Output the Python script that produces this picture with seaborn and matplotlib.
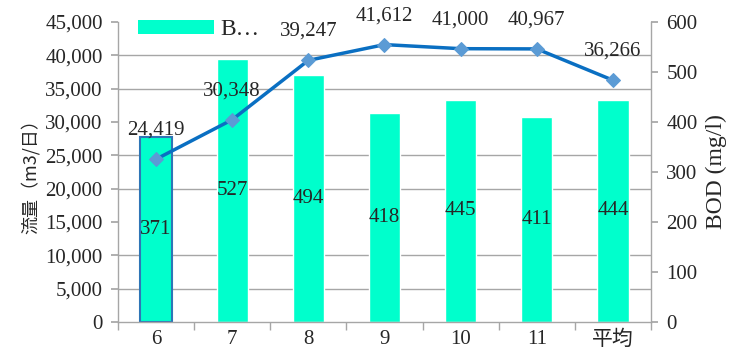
import numpy as np
import pandas as pd
import matplotlib
matplotlib.use("Agg")
import matplotlib.pyplot as plt
import seaborn as sns
from matplotlib.ticker import FuncFormatter
from matplotlib.patches import Patch

months = ["6", "7", "8", "9", "10", "11", "平均"]
bod = [371, 527, 494, 418, 445, 411, 444]
flow = [24419, 30348, 39247, 41612, 41000, 40967, 36266]
legend_label = "B…"
left_label = "流量（m3/日）"
right_label = "BOD (mg/l)"

sns.set_theme(style="white")
serif = ["Liberation Serif", "Noto Sans CJK JP", "DejaVu Sans"]
plt.rcParams["font.family"] = serif

fig = plt.figure(figsize=(7.3, 3.58), dpi=100)
ax = fig.add_axes([0.1616, 0.1006, 0.7302, 0.8379])

df = pd.DataFrame({"month": months, "bod": bod, "flow": flow, "pos": np.arange(len(months))})

gray = "#a6a6a6"
bar_color = "#00FFCC"
fs = 15

# Bars on BOD axis (right side)
sns.barplot(data=df, x="month", y="bod", ax=ax, color=bar_color, saturation=1,
            width=0.41, zorder=2)
ax.patches[0].set_edgecolor("#2E75B6")
ax.patches[0].set_linewidth(1.5)

ax2 = ax.twinx()

ax.set_ylim(0, 600)
ax.set_xlim(-0.5, len(months) - 0.5)
ax.yaxis.tick_right()
ax.yaxis.set_label_position("right")
ax.set_yticks(np.arange(0, 601, 100))
ax.set_yticks(np.linspace(0, 600, 10), minor=True)
ax.grid(False)
ax.grid(True, which="minor", axis="y", color=gray, linewidth=1.0, zorder=0)
ax.set_axisbelow(True)
ax.tick_params(axis="y", which="minor", length=0, right=False, left=False)
ax.tick_params(axis="y", which="major", length=5, color=gray, right=True, left=False,
               labelright=True, labelleft=False, labelsize=fs, pad=6)
ax.set_ylabel(right_label, fontsize=17, labelpad=6)
ax.set_xlabel("")
ax.set_xticks(np.arange(len(months)))
ax.set_xticklabels(months)
ax.set_xticks(np.arange(-0.5, len(months)), minor=True)
ax.tick_params(axis="x", which="major", length=0, labelsize=fs, pad=6)
ax.tick_params(axis="x", which="minor", length=6, color=gray, bottom=True)

for i, v in enumerate(bod):
    ax.text(i, v / 2, f"{v}", ha="center", va="center", fontsize=fs, zorder=5)

for s in ["left", "right", "bottom"]:
    ax.spines[s].set_color(gray)
    ax.spines[s].set_linewidth(1.0)
ax.spines["top"].set_visible(False)

# Flow line on left axis
sns.lineplot(data=df, x="pos", y="flow", ax=ax2, color="#0A6FC2", linewidth=2.5,
             marker="D", markersize=7, markerfacecolor="#5B9BD5", markeredgecolor="#5B9BD5",
             legend=False, zorder=4)
ax2.set_ylim(0, 45000)
ax2.set_xlim(-0.5, len(months) - 0.5)
ax2.yaxis.tick_left()
ax2.yaxis.set_label_position("left")
ax2.set_yticks(np.arange(0, 45001, 5000))
ax2.yaxis.set_major_formatter(FuncFormatter(lambda v, p: f"{int(v):,}"))
ax2.tick_params(axis="y", length=5, color=gray, left=True, right=False,
                labelleft=True, labelright=False, labelsize=fs, pad=6)
ax2.set_ylabel(left_label, fontsize=13, labelpad=4, family=["Noto Sans CJK JP", "DejaVu Sans"])
ax2.set_xlabel("")
ax2.grid(False)
for s in ax2.spines.values():
    s.set_visible(False)

for i, v in enumerate(flow):
    ax2.annotate(f"{v:,}", (i, v), xytext=(0, 14), textcoords="offset points",
                 ha="center", va="bottom", fontsize=fs, zorder=6)

# Legend
handle = Patch(facecolor=bar_color, edgecolor="none")
ax2.legend([handle], [legend_label], loc="upper left", bbox_to_anchor=(0.02, 1.04), frameon=False,
           fontsize=17, handlelength=3.2, handleheight=0.55, handletextpad=0.3,
           borderaxespad=0)

fig.savefig("out.png", dpi=100)
